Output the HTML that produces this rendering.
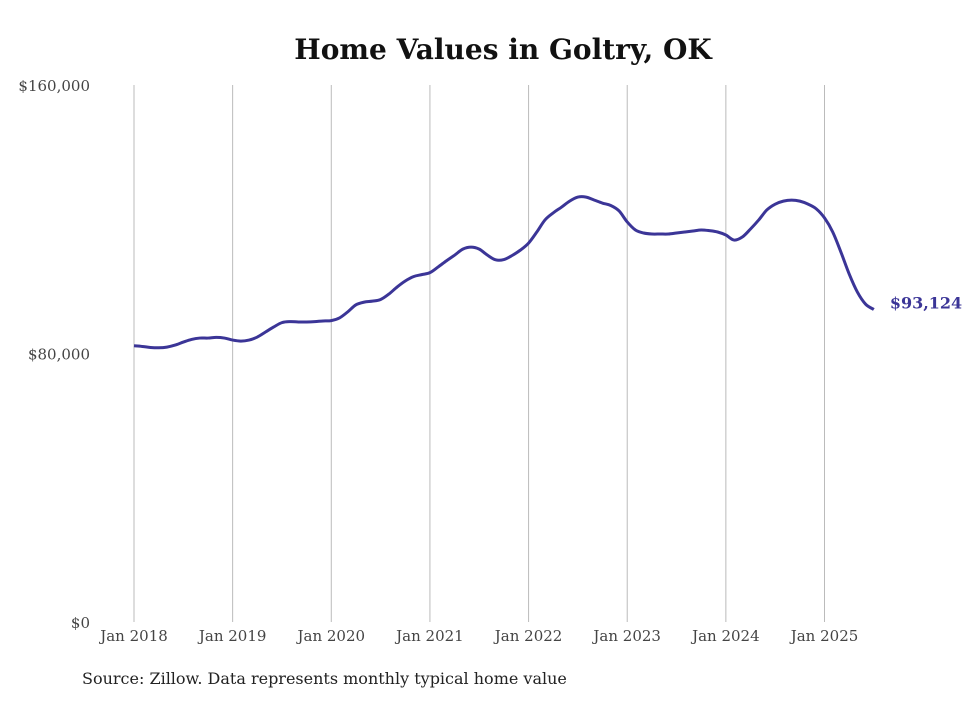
<!DOCTYPE html>
<html><head><meta charset="utf-8"><style>
body{margin:0;background:#fff;width:980px;height:699px;overflow:hidden;font-family:"DejaVu Serif","Liberation Serif",serif}
</style></head><body>
<svg width="980" height="699">
<text x="503" y="59" text-anchor="middle" font-size="28" font-weight="bold" fill="#111">Home Values in Goltry, OK</text>
<g id="grid"></g><g id="yax"></g><g id="xax"></g><g id="series"></g>
<text x="82" y="684" font-size="16" fill="#222">Source: Zillow. Data represents monthly typical home value</text>
</svg>
<script>
const yTicks=[0,80000,160000];
const yTickLabels=["$0","$80,000","$160,000"];
const xYears=[2018,2019,2020,2021,2022,2023,2024,2025];
const xTickLabels=["Jan 2018","Jan 2019","Jan 2020","Jan 2021","Jan 2022","Jan 2023","Jan 2024","Jan 2025"];
const valuesK=[82.3,82.1,81.8,81.7,81.9,82.5,83.4,84.2,84.6,84.6,84.8,84.6,
84.0,83.7,84.0,84.9,86.4,87.9,89.2,89.5,89.4,89.4,89.5,89.7,
89.8,90.6,92.4,94.5,95.3,95.6,96.1,97.7,99.8,101.6,102.9,103.5,
104.1,105.8,107.6,109.3,111.1,111.7,111.1,109.3,107.9,108.0,109.2,110.8,
112.9,116.2,119.8,121.9,123.6,125.4,126.6,126.6,125.7,124.8,124.1,122.5,
119.2,116.8,115.9,115.6,115.6,115.6,115.9,116.2,116.5,116.8,116.6,116.2,
115.3,113.8,114.7,117.1,119.8,122.8,124.5,125.4,125.7,125.4,124.5,123.1,
120.4,116.2,110.2,103.7,98.3,94.7,93.124];
const lastLabel="$93,124";
const NS="http://www.w3.org/2000/svg";
const y=v=>622-v*(537/160000);
const x=m=>134+m*(690.5/84);
function mk(t,a,p){const e=document.createElementNS(NS,t);for(const k in a)e.setAttribute(k,a[k]);p.appendChild(e);return e;}
const grid=document.getElementById('grid'),yax=document.getElementById('yax'),xax=document.getElementById('xax'),ser=document.getElementById('series');
yTicks.forEach((t,i)=>{
 const tx=mk('text',{x:90,y:y(t)+6,'text-anchor':'end','font-size':15,fill:'#444'},yax);
 
 
 tx.textContent=yTickLabels[i];
});
xYears.forEach((yr,i)=>{
 const xx=x((yr-2018)*12);
 const ln=mk('line',{x1:xx,x2:xx,y1:85,y2:622,stroke:'#bbb','stroke-width':1},grid);
 
 
 const tx=mk('text',{x:xx,y:641,'text-anchor':'middle','font-size':15,fill:'#444'},xax);
 
 
 tx.textContent=xTickLabels[i];
});
const pts=valuesK.map((v,i)=>[x(i),y(v*1000)]);
let d='M'+pts[0][0]+','+pts[0][1];
for(let i=0;i<pts.length-1;i++){
 const p0=pts[Math.max(0,i-1)],p1=pts[i],p2=pts[i+1],p3=pts[Math.min(pts.length-1,i+2)];
 const c1=[p1[0]+(p2[0]-p0[0])/6,p1[1]+(p2[1]-p0[1])/6],c2=[p2[0]-(p3[0]-p1[0])/6,p2[1]-(p3[1]-p1[1])/6];
 d+=` C${c1[0]},${c1[1]} ${c2[0]},${c2[1]} ${p2[0]},${p2[1]}`;
}
const path=mk('path',{d:d,fill:'none',stroke:'#3b3597','stroke-width':3,'stroke-linejoin':'round'},ser);


const last=pts[pts.length-1];
const lb=mk('text',{x:last[0]+16,y:last[1]-1,'font-size':16,'font-weight':'bold',fill:'#3b3597'},ser);


lb.textContent=lastLabel;
</script>
</body></html>
